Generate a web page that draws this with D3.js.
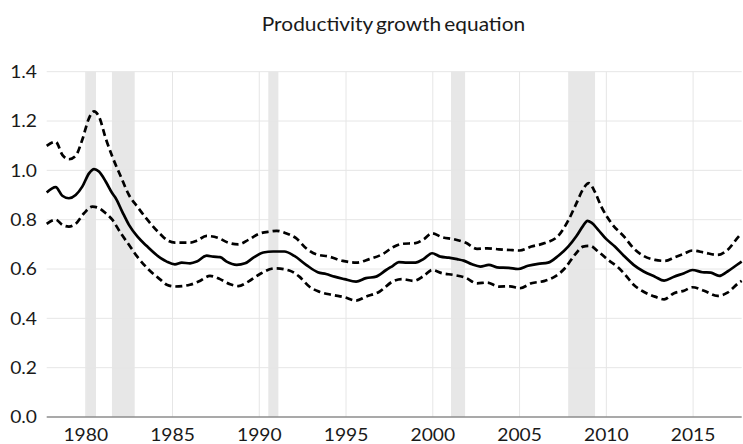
<!DOCTYPE html>
<html>
<head>
<meta charset="utf-8">
<script src="https://cdn.jsdelivr.net/npm/d3@7"></script>
<style>
  html, body { margin: 0; padding: 0; background: #fff; }
  svg { display: block; }
  text { font-family: Lato, "Open Sans", sans-serif; fill: #1a1a1a; }
</style>
</head>
<body>
<svg id="chart" width="743" height="444"></svg>
<script>
// ---- data ----
const title = "Productivity growth equation";
const yTicks = [0, 0.2, 0.4, 0.6, 0.8, 1.0, 1.2, 1.4];
const xTicks = [1980, 1985, 1990, 1995, 2000, 2005, 2010, 2015];
const recessionStart = [1980.02, 1981.51, 1990.52, 2001.05, 2007.8];
const recessionEnd   = [1980.59, 1982.82, 1991.10, 2001.86, 2009.35];

const midYears = [1977.75,1978.27,1978.65,1979.03,1979.42,1979.80,1980.19,1980.48,1980.76,1981.15,1981.53,1981.73,1982.10,1982.49,1982.97,1983.55,1984.32,1984.67,1985.14,1985.53,1986.01,1986.40,1986.97,1987.35,1987.74,1988.12,1988.70,1989.18,1989.66,1990.23,1990.80,1991.45,1992.02,1992.70,1993.37,1993.85,1994.33,1994.90,1995.58,1996.15,1996.73,1997.31,1997.70,1998.04,1998.52,1999.00,1999.48,1999.96,2000.44,2000.92,2001.40,2001.78,2002.26,2002.74,2003.23,2003.70,2004.38,2004.91,2005.49,2006.07,2006.64,2007.22,2007.80,2008.28,2008.66,2008.91,2009.14,2009.53,2010.00,2010.49,2010.99,2011.57,2012.15,2012.80,2013.33,2013.90,2014.48,2014.96,2015.54,2016.02,2016.50,2016.98,2017.65,2017.80];
const midValues = [0.910,0.932,0.897,0.887,0.900,0.934,0.988,1.005,0.995,0.955,0.907,0.887,0.833,0.779,0.732,0.691,0.644,0.630,0.619,0.626,0.623,0.630,0.654,0.650,0.648,0.630,0.617,0.623,0.646,0.667,0.671,0.671,0.653,0.617,0.587,0.580,0.569,0.559,0.549,0.563,0.569,0.596,0.613,0.628,0.626,0.626,0.641,0.664,0.650,0.646,0.640,0.634,0.619,0.610,0.617,0.607,0.605,0.600,0.613,0.621,0.626,0.653,0.691,0.734,0.775,0.795,0.788,0.759,0.721,0.691,0.655,0.617,0.590,0.569,0.553,0.569,0.583,0.596,0.587,0.585,0.572,0.590,0.623,0.630];

const upperYears = [1977.75,1978.27,1978.65,1979.03,1979.42,1979.80,1980.19,1980.48,1980.76,1981.15,1981.53,1982.02,1982.49,1982.97,1983.55,1984.32,1984.67,1985.14,1986.01,1986.40,1986.97,1987.60,1988.20,1988.79,1989.37,1989.95,1990.62,1991.00,1991.54,1992.12,1992.70,1993.27,1994.04,1994.81,1995.58,1996.34,1997.12,1997.70,1998.23,1999.00,1999.48,1999.96,2000.53,2001.20,2001.88,2002.55,2003.13,2003.80,2004.45,2005.01,2005.68,2006.45,2007.22,2007.80,2008.28,2008.66,2009.00,2009.33,2009.71,2010.29,2011.05,2011.57,2012.15,2012.80,2013.37,2013.95,2014.45,2014.96,2015.63,2016.40,2016.98,2017.65,2017.80];
const upperValues = [1.099,1.116,1.063,1.045,1.059,1.124,1.212,1.239,1.218,1.130,1.056,0.975,0.900,0.853,0.800,0.740,0.718,0.707,0.707,0.715,0.734,0.727,0.707,0.700,0.718,0.742,0.752,0.755,0.745,0.725,0.684,0.660,0.650,0.633,0.626,0.640,0.661,0.688,0.702,0.705,0.721,0.745,0.729,0.721,0.707,0.682,0.684,0.680,0.677,0.675,0.691,0.705,0.734,0.796,0.867,0.924,0.948,0.914,0.853,0.786,0.729,0.684,0.653,0.637,0.633,0.648,0.661,0.675,0.667,0.657,0.677,0.734,0.745];

const lowerYears = [1977.75,1978.27,1978.65,1979.03,1979.42,1979.90,1980.38,1980.76,1981.15,1981.53,1982.02,1982.49,1982.97,1983.55,1984.32,1984.67,1985.14,1986.00,1986.50,1987.16,1987.74,1988.32,1988.79,1989.37,1990.04,1990.91,1991.73,1992.31,1992.88,1993.46,1994.23,1994.90,1995.58,1996.15,1996.92,1997.70,1998.23,1998.90,1999.48,1999.96,2000.53,2001.20,2001.88,2002.55,2003.13,2003.80,2004.45,2005.01,2005.68,2006.45,2007.03,2007.61,2008.18,2008.66,2009.05,2009.53,2010.10,2010.67,2011.05,2011.57,2012.15,2012.80,2013.33,2013.90,2014.48,2014.96,2015.63,2016.40,2016.98,2017.65,2017.80];
const lowerValues = [0.783,0.800,0.779,0.772,0.783,0.826,0.853,0.847,0.826,0.800,0.745,0.698,0.650,0.603,0.556,0.536,0.529,0.536,0.549,0.572,0.559,0.538,0.531,0.549,0.580,0.603,0.594,0.569,0.529,0.508,0.495,0.486,0.472,0.488,0.508,0.550,0.559,0.552,0.572,0.596,0.583,0.576,0.565,0.542,0.545,0.529,0.530,0.522,0.542,0.552,0.569,0.603,0.657,0.691,0.694,0.671,0.637,0.607,0.580,0.536,0.508,0.488,0.477,0.502,0.512,0.526,0.512,0.491,0.504,0.545,0.552];

// ---- layout ----
const svg = d3.select("#chart");
const plotLeft = 46.7, plotRight = 741.7, plotTop = 71.7, plotBottom = 417;
const x = d3.scaleLinear().domain([1977.75, 2017.8]).range([plotLeft, plotRight]);
const y = d3.scaleLinear().domain([0, 1.4]).range([plotBottom, plotTop]);
const stretch = 1.1;

// recession bars
svg.append("g").selectAll("rect")
  .data(recessionStart.map((s, i) => [s, recessionEnd[i]]))
  .join("rect")
  .attr("x", d => x(d[0]))
  .attr("width", d => x(d[1]) - x(d[0]))
  .attr("y", y(1.4))
  .attr("height", y(0) - y(1.4))
  .attr("fill", "#e7e7e7");

// gridlines
const grid = svg.append("g");
grid.selectAll("line.h").data(yTicks.filter(d => d > 0)).join("line")
  .attr("x1", plotLeft).attr("x2", plotRight)
  .attr("y1", d => y(d)).attr("y2", d => y(d))
  .attr("stroke", "#e6e6e6").attr("stroke-width", 1);
grid.selectAll("line.v").data(xTicks).join("line")
  .attr("y1", y(1.4)).attr("y2", y(0))
  .attr("x1", d => x(d)).attr("x2", d => x(d))
  .attr("stroke", "#e6e6e6").attr("stroke-width", 1);

// x axis baseline
svg.append("line")
  .attr("x1", plotLeft).attr("x2", plotRight)
  .attr("y1", y(0)).attr("y2", y(0))
  .attr("stroke", "#8c8c8c").attr("stroke-width", 1.5);

// y tick labels
svg.append("g").selectAll("text").data(yTicks).join("text")
  .attr("transform", d => `translate(37,${y(d)}) scale(${stretch},1)`)
  .attr("text-anchor", "end")
  .attr("dy", "0.36em")
  .style("font-size", "17.5px")
  .text(d => d3.format(".1f")(d));

// x tick labels
svg.append("g").selectAll("text").data(xTicks).join("text")
  .attr("transform", d => `translate(${x(d)},441) scale(${stretch},1)`)
  .attr("text-anchor", "middle")
  .style("font-size", "17.5px")
  .text(d => d);

// title
svg.append("text")
  .attr("transform", `translate(393.5,31) scale(1.13,1)`)
  .attr("text-anchor", "middle")
  .style("font-size", "18.5px")
  .style("word-spacing", "-2px")
  .text(title);

// lines
const line = d3.line().x(d => x(d[0])).y(d => y(d[1])).curve(d3.curveMonotoneX);
const series = [
  { years: upperYears, values: upperValues, dash: "7,4", width: 2.7 },
  { years: lowerYears, values: lowerValues, dash: "7,4", width: 2.7 },
  { years: midYears,   values: midValues,   dash: null,  width: 2.7 }
];
svg.append("g").selectAll("path").data(series).join("path")
  .attr("d", s => line(s.years.map((yr, i) => [yr, s.values[i]])))
  .attr("fill", "none")
  .attr("stroke", "#000")
  .attr("stroke-width", s => s.width)
  .attr("stroke-linejoin", "round")
  .attr("stroke-dasharray", s => s.dash);
</script>
</body>
</html>
